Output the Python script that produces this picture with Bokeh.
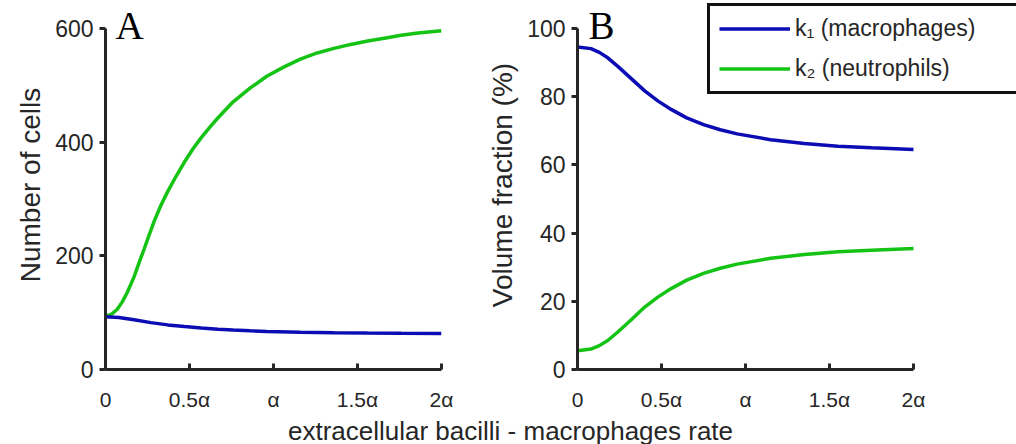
from bokeh.plotting import figure
from bokeh.models import Range1d, FixedTicker, Legend, LegendItem, Label
from bokeh.layouts import column, row
from bokeh.embed import file_html
from bokeh.resources import INLINE
from bokeh.core.properties import value

# ---------------- data ----------------
# Panel A: number of cells vs rate (in units of alpha)
a_green_x = [0.0, 0.035, 0.07, 0.10, 0.13, 0.17, 0.20, 0.23, 0.26, 0.29, 0.33, 0.37,
             0.42, 0.47, 0.52, 0.57, 0.62, 0.67, 0.76, 0.86, 0.96, 1.06, 1.16, 1.26,
             1.36, 1.46, 1.56, 1.66, 1.76, 1.86, 2.0]
a_neutrophils = [94, 97, 106, 119, 136, 163, 188, 212, 237, 261, 289, 313,
                 340, 365, 388, 408, 426, 443, 471, 495, 516, 532, 546, 557,
                 565, 572, 578, 583, 588, 592, 596]
a_blue_x = [0.0, 0.08, 0.17, 0.27, 0.37, 0.47, 0.57, 0.67, 0.76, 0.86, 0.96, 1.16,
            1.36, 1.56, 1.76, 2.0]
a_macrophages = [93, 91.5, 87.5, 82.5, 78.5, 75.5, 73, 71, 69.5, 68, 67, 65.5,
                 64.8, 64.2, 63.8, 63.5]

# Panel B: volume fraction (%) vs rate
b_x = [0.0, 0.08, 0.13, 0.18, 0.24, 0.32, 0.40, 0.48, 0.56, 0.65, 0.75, 0.85,
       0.95, 1.15, 1.35, 1.55, 1.75, 2.0]
b_macrophages = [94.6, 94.1, 93.0, 91.4, 88.9, 85.3, 81.7, 78.7, 76.2, 73.8, 71.8, 70.3,
                 69.1, 67.4, 66.3, 65.5, 65.0, 64.5]
b_neutrophils = [5.5, 6.0, 7.0, 8.5, 11.0, 14.6, 18.3, 21.3, 23.8, 26.2, 28.2, 29.7,
                 30.9, 32.6, 33.7, 34.5, 35.0, 35.5]

x_ticks = [0, 0.5, 1, 1.5, 2]
x_tick_labels = ["0", "0.5α", "α", "1.5α", "2α"]
a_y_ticks = [0, 200, 400, 600]
b_y_ticks = [0, 20, 40, 60, 80, 100]

legend_labels = ["k₁ (macrophages)", "k₂ (neutrophils)"]
a_ylabel = "Number of cells"
b_ylabel = "Volume fraction (%)"
x_label = "extracellular bacilli - macrophages rate"
panel_letters = ["A", "B"]

BLUE = "#0c0cb4"
GREEN = "#14c314"
AX = "#262626"
SANS = "Liberation Sans"

# layout constants (pixels)
FIG_H = 415
BOTTOM = 46          # space below the frame
AXIS_TOP = 28        # where the top tick (ymax) sits
AXIS_W = 336         # pixel length of the 0..2 x axis
FRAME_H = FIG_H - BOTTOM
AXIS_H = FRAME_H - AXIS_TOP


def make_panel(width, bl, br, ymax, yticks, ylabel):
    frame_w = width - bl - br
    p = figure(width=width, height=FIG_H, output_backend="svg", toolbar_location=None,
               x_range=Range1d(0, 2 * frame_w / AXIS_W),
               y_range=Range1d(0, ymax * FRAME_H / AXIS_H),
               min_border_left=bl, min_border_right=br,
               min_border_top=0, min_border_bottom=BOTTOM)
    p.outline_line_color = None
    p.grid.visible = False
    p.background_fill_color = "white"
    p.border_fill_color = "white"

    xa = p.xaxis[0]
    xa.bounds = (0, 2)
    xa.ticker = FixedTicker(ticks=x_ticks)
    xa.major_label_overrides = {t: l for t, l in zip(x_ticks, x_tick_labels)}
    xa.major_tick_in = 6
    xa.major_tick_out = 0
    xa.minor_tick_line_color = None
    xa.major_label_standoff = 18
    xa.major_label_text_font = SANS
    xa.major_label_text_font_size = "21px"

    ya = p.yaxis[0]
    ya.bounds = (0, ymax)
    ya.ticker = FixedTicker(ticks=yticks)
    ya.major_tick_in = 0
    ya.major_tick_out = 6
    ya.minor_tick_line_color = None
    ya.major_label_standoff = 6
    ya.major_label_text_font = SANS
    ya.major_label_text_font_size = "23px"
    ya.axis_label = ylabel
    ya.axis_label_text_font = SANS
    ya.axis_label_text_font_size = "28px"
    ya.axis_label_text_font_style = "normal"
    ya.axis_label_standoff = 6

    for ax in (xa, ya):
        ax.axis_line_width = 3
        ax.axis_line_color = AX
        ax.major_tick_line_width = 3
        ax.major_tick_line_color = AX
        ax.major_label_text_color = AX
        ax.axis_label_text_color = AX
    return p


pa = make_panel(470, 105, 29, 600, a_y_ticks, a_ylabel)
pa.line(a_green_x, a_neutrophils, line_color=GREEN, line_width=3.5)
pa.line(a_blue_x, a_macrophages, line_color=BLUE, line_width=3.5)
pa.add_layout(Label(x=0.06, y=567, text=panel_letters[0], text_font="Liberation Serif",
                    text_font_size="39px", text_color="black",
                    text_baseline="bottom"))

pb = make_panel(546, 107, 0, 100, b_y_ticks, b_ylabel)
rb = pb.line(b_x, b_macrophages, line_color=BLUE, line_width=3.5)
rg = pb.line(b_x, b_neutrophils, line_color=GREEN, line_width=3.5)
pb.add_layout(Label(x=0.065, y=94.5, text=panel_letters[1], text_font="Liberation Serif",
                    text_font_size="39px", text_color="black",
                    text_baseline="bottom"))

legend = Legend(items=[LegendItem(label=legend_labels[0], renderers=[rb]),
                       LegendItem(label=legend_labels[1], renderers=[rg])],
                location=(130, 275), margin=0, padding=9, spacing=13,
                glyph_width=71, glyph_height=23, label_standoff=5, label_width=212,
                label_text_font=SANS, label_text_font_size="23px", label_text_color=AX,
                border_line_color="#111111", border_line_width=3.5, border_line_alpha=1.0,
                background_fill_color="white", background_fill_alpha=1.0)
pb.add_layout(legend, "center")

pc = figure(width=1016, height=444 - FIG_H, output_backend="svg", toolbar_location=None,
            x_range=Range1d(0, 1016), y_range=Range1d(0, 444 - FIG_H),
            x_axis_location=None, y_axis_location=None, min_border=0)
pc.outline_line_color = None
pc.grid.visible = False
pc.text(x=[510], y=[14], text=[x_label], text_font=value(SANS), text_font_size="26px",
        text_align="center", text_baseline="middle", text_color=AX)

layout = column(row(pa, pb), pc)
open("out.html", "w").write(file_html(layout, INLINE))
